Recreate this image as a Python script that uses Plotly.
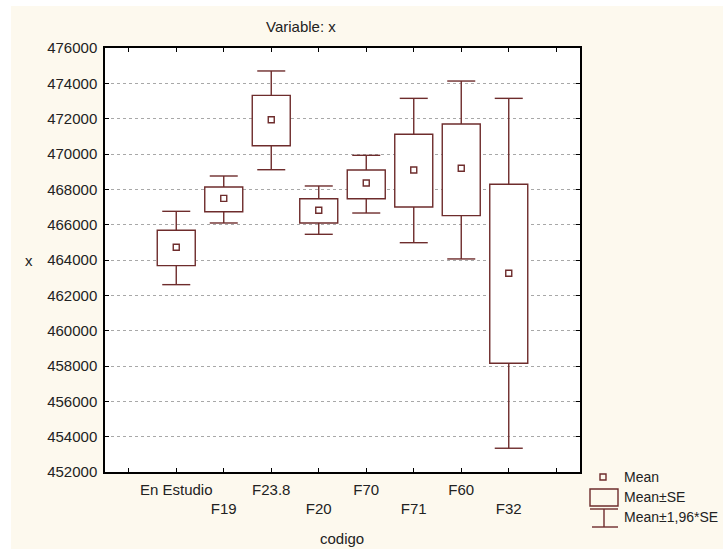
import plotly.graph_objects as go

categories = ["En Estudio", "F19", "F23.8", "F20", "F70", "F71", "F60", "F32"]
positions = [1, 2, 3, 4, 5, 6, 7, 8]
mean_vals = [464720, 467490, 471940, 466815, 468360, 469095, 469190, 463250]
se_low = [463680, 466735, 470470, 466095, 467470, 467000, 466510, 458155]
se_high = [465680, 468130, 473320, 467470, 469095, 471115, 471700, 468285]
ci_low = [462605, 466095, 469110, 465455, 466660, 464980, 464060, 453345]
ci_high = [466755, 468755, 474700, 468190, 469925, 473150, 474130, 473150]

tick_positions = list(range(0, 10))
tick_labels = ["", "En Estudio", "<br>F19", "F23.8", "<br>F20", "F70", "<br>F71", "F60", "<br>F32", ""]

LINE = "#6e2c2c"
CREAM = "#fdf9ee"
FONT = "Liberation Sans, Arial, sans-serif"
TXT = "#222222"

W, H = 723, 549
L, R, T, B = 105, 580, 48, 472
BOX_W = 0.8
CAP_HALF = 0.295
LW = 1.4


def px(x):
    return (x - L) / (R - L)


def py(y):
    return (B - y) / (B - T)


fig = go.Figure()

# boxes: mean ± SE
fig.add_trace(go.Bar(
    x=positions, y=[h - l for h, l in zip(se_high, se_low)], base=se_low, width=BOX_W,
    marker=dict(color="white", line=dict(color=LINE, width=LW)),
    showlegend=False, hoverinfo="skip",
))

# whiskers: mean ± 1.96*SE
wx, wy = [], []
for p, sl, sh, cl, ch in zip(positions, se_low, se_high, ci_low, ci_high):
    wx += [p, p, None, p - CAP_HALF, p + CAP_HALF, None, p, p, None, p - CAP_HALF, p + CAP_HALF, None]
    wy += [sh, ch, None, ch, ch, None, sl, cl, None, cl, cl, None]
fig.add_trace(go.Scatter(
    x=wx, y=wy, mode="lines", line=dict(color=LINE, width=LW),
    showlegend=False, hoverinfo="skip",
))

fig.add_trace(go.Scatter(
    x=positions, y=mean_vals, mode="markers",
    marker=dict(symbol="square-open", size=6, color=LINE, line=dict(width=LW, color=LINE)),
    showlegend=False, hoverinfo="skip",
))

shapes = [
    dict(type="rect", xref="paper", yref="paper", x0=px(11), x1=px(W + 5), y0=py(H + 5), y1=py(6),
         fillcolor=CREAM, line=dict(width=0), layer="below"),
    dict(type="rect", xref="paper", yref="paper", x0=0, x1=1, y0=0, y1=1,
         fillcolor="white", line=dict(width=0), layer="below"),
    # legend glyphs
    dict(type="rect", xref="paper", yref="paper", x0=px(600), x1=px(606), y0=py(480), y1=py(474),
         line=dict(color=LINE, width=LW), fillcolor="rgba(0,0,0,0)"),
    dict(type="rect", xref="paper", yref="paper", x0=px(590), x1=px(618), y0=py(506), y1=py(489),
         line=dict(color=LINE, width=LW), fillcolor="rgba(0,0,0,0)"),
    dict(type="line", xref="paper", yref="paper", x0=px(590), x1=px(618), y0=py(509), y1=py(509),
         line=dict(color=LINE, width=LW)),
    dict(type="line", xref="paper", yref="paper", x0=px(604), x1=px(604), y0=py(509), y1=py(527),
         line=dict(color=LINE, width=LW)),
    dict(type="line", xref="paper", yref="paper", x0=px(592), x1=px(618), y0=py(527), y1=py(527),
         line=dict(color=LINE, width=LW)),
]

annotations = [
    dict(text="Variable: x", x=px(301), y=py(26), xref="paper", yref="paper",
         showarrow=False, xanchor="center", yanchor="middle", font=dict(size=15, color=TXT)),
    dict(text="x", x=px(29), y=py(260), xref="paper", yref="paper",
         showarrow=False, xanchor="center", yanchor="middle", font=dict(size=15, color=TXT)),
    dict(text="codigo", x=px(342), y=py(538), xref="paper", yref="paper",
         showarrow=False, xanchor="center", yanchor="middle", font=dict(size=15, color=TXT)),
    dict(text="Mean", x=px(622), y=py(477), xref="paper", yref="paper",
         showarrow=False, xanchor="left", yanchor="middle", font=dict(size=14, color=TXT)),
    dict(text="Mean±SE", x=px(622), y=py(497), xref="paper", yref="paper",
         showarrow=False, xanchor="left", yanchor="middle", font=dict(size=14, color=TXT)),
    dict(text="Mean±1,96*SE", x=px(622), y=py(517), xref="paper", yref="paper",
         showarrow=False, xanchor="left", yanchor="middle", font=dict(size=14, color=TXT)),
]

fig.update_layout(
    width=W, height=H,
    margin=dict(l=L, r=W - R, t=T, b=H - B, pad=0),
    paper_bgcolor="white", plot_bgcolor="white",
    font=dict(family=FONT, size=15, color=TXT),
    shapes=shapes, annotations=annotations, showlegend=False,
    barmode="overlay",
    xaxis=dict(range=[-0.5, 9.5], tickmode="array", tickvals=tick_positions, ticktext=tick_labels,
               tickangle=0, automargin=False, ticklabelstandoff=3,
               ticks="inside", ticklen=4, tickcolor="black", showline=True, linecolor="black",
               linewidth=1.5, mirror="ticks", showgrid=False, zeroline=False,
               tickfont=dict(size=15, color=TXT)),
    yaxis=dict(range=[452000, 476000], tickmode="linear", tick0=452000, dtick=2000,
               tickformat="d", automargin=False, ticklabelstandoff=3,
               ticks="inside", ticklen=4, tickcolor="black",
               showline=True, linecolor="black", linewidth=1.5, mirror="ticks", showgrid=True,
               gridcolor="#a8a8a8", griddash="dot", gridwidth=1, zeroline=False,
               tickfont=dict(size=15, color=TXT)),
)

fig.write_html("out.html")
